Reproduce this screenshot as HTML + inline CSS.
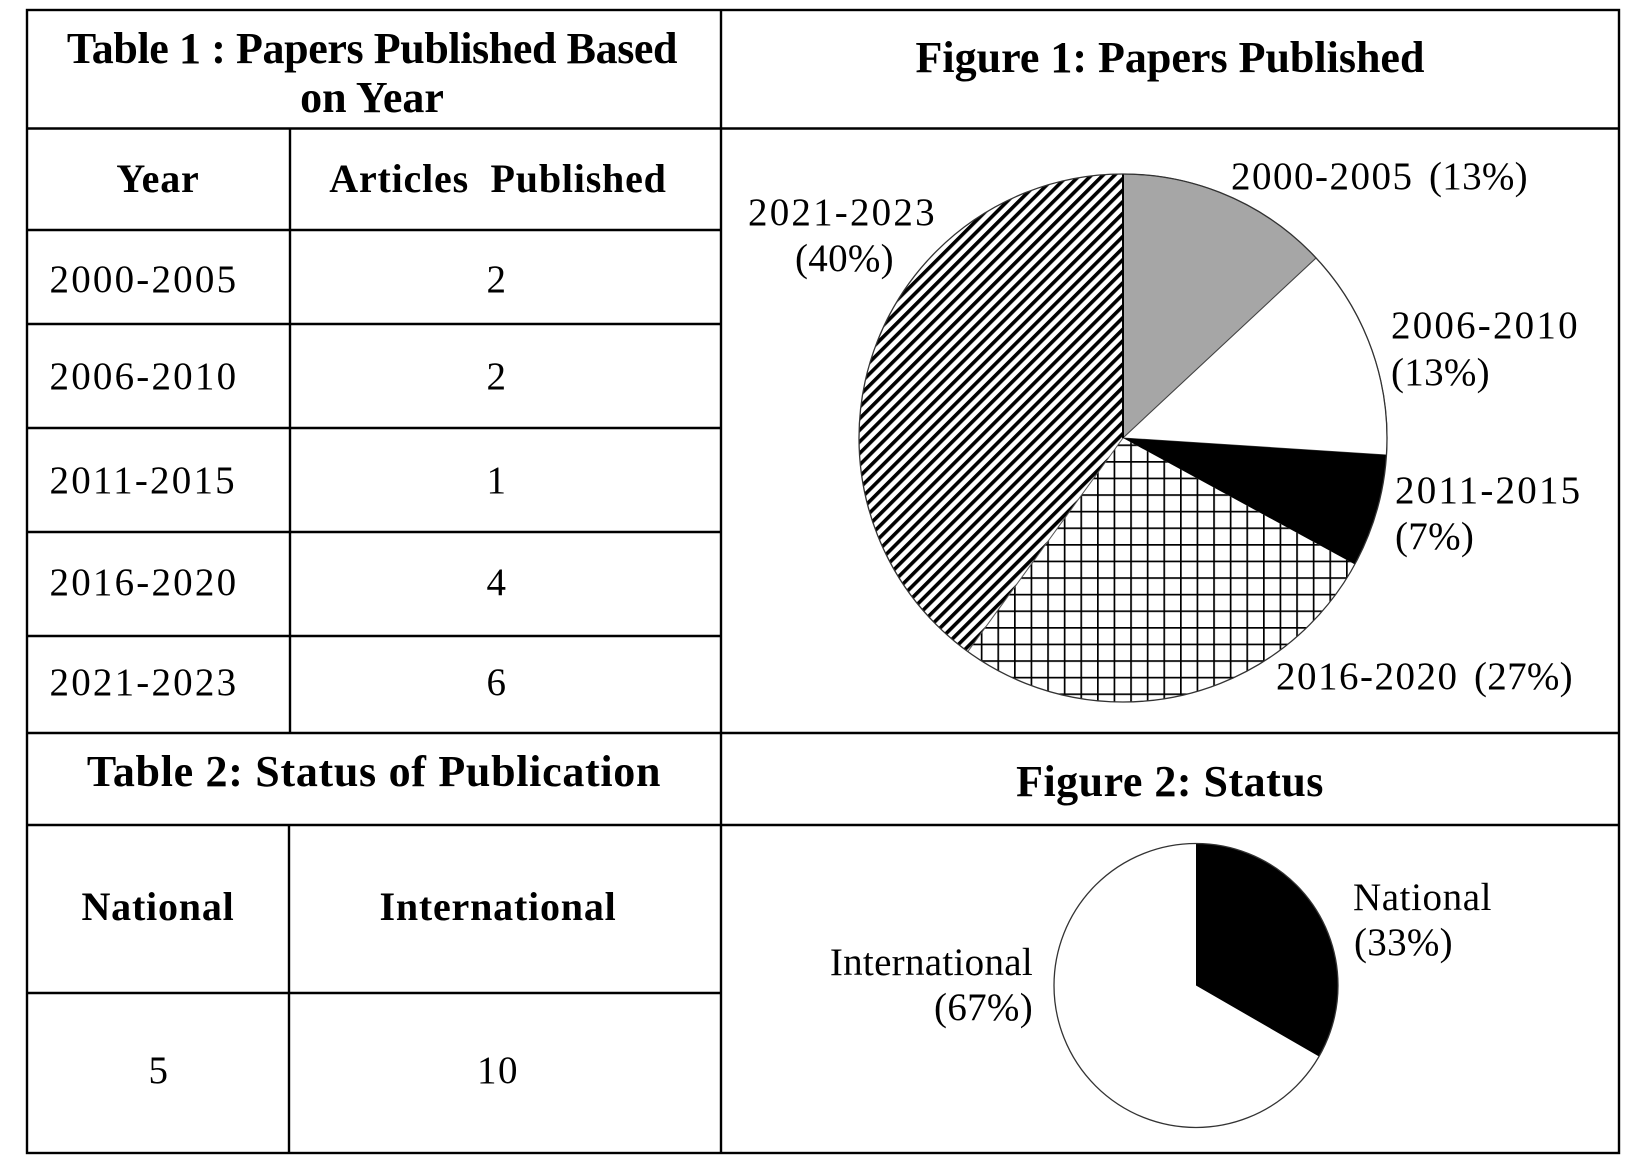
<!DOCTYPE html>
<html>
<head>
<meta charset="utf-8">
<style>
  html, body { margin: 0; padding: 0; background: #fff; }
  body { width: 1636px; height: 1176px; overflow: hidden; }
  svg { display: block; }
  .t { font-family: "Liberation Serif", "DejaVu Serif", serif; fill: #000; white-space: pre; }
  .r { font-size: 39px; letter-spacing: 1.5px; }
  .d { letter-spacing: 2.2px; }
  .p { letter-spacing: 0.3px; }
  .b { font-size: 40px; font-weight: bold; letter-spacing: 0.8px; }
  .h { font-size: 44px; font-weight: bold; }
</style>
</head>
<body>
<svg width="1636" height="1176" viewBox="0 0 1636 1176" xmlns="http://www.w3.org/2000/svg">
  <defs>
    <pattern id="stripes" patternUnits="userSpaceOnUse" width="8.2" height="8.2" patternTransform="rotate(45)">
      <rect width="8.2" height="8.2" fill="#fff"/>
      <rect x="0" y="0" width="3.6" height="8.2" fill="#000"/>
    </pattern>
    <pattern id="grid" patternUnits="userSpaceOnUse" x="1097" y="461" width="16.6" height="16.6">
      <rect width="16.6" height="16.6" fill="#fff"/>
      <rect x="0" y="0" width="16.6" height="1.7" fill="#000"/>
      <rect x="0" y="0" width="1.7" height="16.6" fill="#000"/>
    </pattern>
  </defs>

  <rect x="0" y="0" width="1636" height="1176" fill="#fff"/>

  <!-- Table grid lines -->
  <g stroke="#000" stroke-width="2.4" fill="none">
    <rect x="27" y="10" width="1592" height="1143"/>
    <line x1="721" y1="10" x2="721" y2="1153"/>
    <line x1="27" y1="128.5" x2="1619" y2="128.5"/>
    <line x1="27" y1="230" x2="721" y2="230"/>
    <line x1="27" y1="324" x2="721" y2="324"/>
    <line x1="27" y1="428" x2="721" y2="428"/>
    <line x1="27" y1="532" x2="721" y2="532"/>
    <line x1="27" y1="636" x2="721" y2="636"/>
    <line x1="27" y1="733" x2="1619" y2="733"/>
    <line x1="27" y1="825" x2="1619" y2="825"/>
    <line x1="27" y1="993" x2="721" y2="993"/>
    <line x1="290" y1="128.5" x2="290" y2="733"/>
    <line x1="289" y1="825" x2="289" y2="1153"/>
  </g>

  <!-- Table 1 -->
  <text class="t h" x="372" y="63" text-anchor="middle" style="letter-spacing:-0.4px">Table 1 : Papers Published Based</text>
  <text class="t h" x="372" y="112" text-anchor="middle">on Year</text>
  <text class="t b" x="158" y="192" text-anchor="middle">Year</text>
  <text class="t b" x="498" y="192" text-anchor="middle">Articles  Published</text>

  <text class="t r d" x="49.5" y="292">2000-2005</text>
  <text class="t r" x="497" y="292" text-anchor="middle">2</text>
  <text class="t r d" x="49.5" y="389">2006-2010</text>
  <text class="t r" x="497" y="389" text-anchor="middle">2</text>
  <text class="t r d" x="49.5" y="493">2011-2015</text>
  <text class="t r" x="497" y="493" text-anchor="middle">1</text>
  <text class="t r d" x="49.5" y="595">2016-2020</text>
  <text class="t r" x="497" y="595" text-anchor="middle">4</text>
  <text class="t r d" x="49.5" y="695">2021-2023</text>
  <text class="t r" x="497" y="695" text-anchor="middle">6</text>

  <!-- Table 2 -->
  <text class="t h" x="374" y="786" text-anchor="middle" style="letter-spacing:0.7px">Table 2: Status of Publication</text>
  <text class="t b" x="158" y="920" text-anchor="middle">National</text>
  <text class="t b" x="498" y="920" text-anchor="middle">International</text>
  <text class="t r" x="159" y="1083" text-anchor="middle">5</text>
  <text class="t r" x="498" y="1083" text-anchor="middle">10</text>

  <!-- Figure titles -->
  <text class="t h" x="1170" y="72" text-anchor="middle">Figure 1: Papers Published</text>
  <text class="t h" x="1170" y="796" text-anchor="middle" style="letter-spacing:0.5px">Figure 2: Status</text>

  <!-- Pie 1 -->
  <path d="M1123,438 L967.8,651.6 A264,264 0 0,1 1123,174 Z" fill="url(#stripes)"/>
  <path d="M1123,438 L1354.8,564.4 A264,264 0 0,1 967.8,651.6 Z" fill="url(#grid)"/>
  <path d="M1123,438 L1123,174 A264,264 0 0,1 1316.1,258 Z" fill="#a6a6a6" stroke="#444" stroke-width="1"/>
  <path d="M1123,438 L1316.1,258 A264,264 0 0,1 1386.5,455 Z" fill="#fff" stroke="#444" stroke-width="1"/>
  <path d="M1123,438 L1386.5,455 A264,264 0 0,1 1354.8,564.4 Z" fill="#000"/>
  <line x1="1123" y1="174" x2="1123" y2="438" stroke="#000" stroke-width="2"/>
  <line x1="1123" y1="438" x2="967.8" y2="651.6" stroke="#555" stroke-width="1"/>
  <circle cx="1123" cy="438" r="264" fill="none" stroke="#333" stroke-width="1.3"/>

  <!-- Pie 1 labels -->
  <text class="t r d" x="748" y="225">2021-2023</text>
  <text class="t r p" x="795" y="271">(40%)</text>
  <text class="t r" x="1231" y="189">2000-2005</text>
  <text class="t r p" x="1429" y="189">(13%)</text>
  <text class="t r d" x="1391" y="338">2006-2010</text>
  <text class="t r p" x="1391" y="385">(13%)</text>
  <text class="t r d" x="1395" y="503">2011-2015</text>
  <text class="t r p" x="1395" y="549">(7%)</text>
  <text class="t r" x="1276" y="689">2016-2020</text>
  <text class="t r p" x="1474" y="689">(27%)</text>

  <!-- Pie 2 -->
  <circle cx="1196" cy="985.5" r="142" fill="#fff"/>
  <path d="M1196,985.5 L1196,843.5 A142,142 0 0,1 1319,1056.5 Z" fill="#000"/>
  <circle cx="1196" cy="985.5" r="142" fill="none" stroke="#333" stroke-width="1.3"/>

  <!-- Pie 2 labels -->
  <text class="t r" x="1353" y="910" style="letter-spacing:0.6px">National</text>
  <text class="t r p" x="1354" y="955">(33%)</text>
  <text class="t r" x="1033" y="975" text-anchor="end" style="letter-spacing:0.3px">International</text>
  <text class="t r p" x="1033" y="1020" text-anchor="end">(67%)</text>
</svg>
</body>
</html>
